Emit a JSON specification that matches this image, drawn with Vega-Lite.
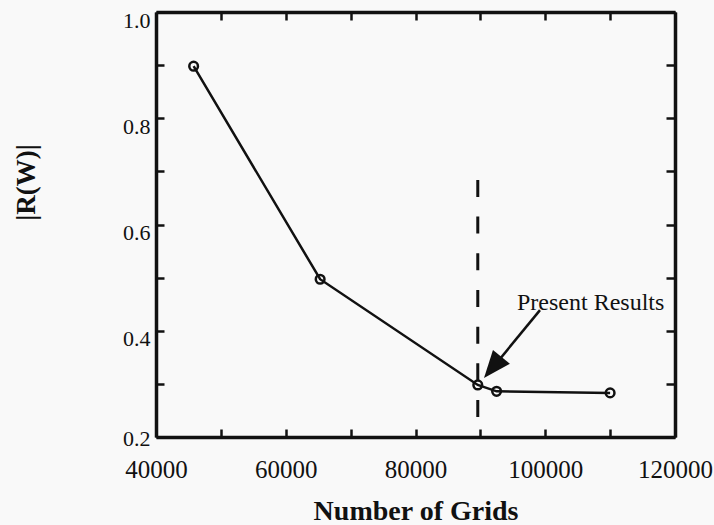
{
  "$schema": "https://vega.github.io/schema/vega-lite/v6.json",
  "width": 519,
  "height": 425,
  "autosize": "none",
  "padding": {"left": 156, "top": 12, "right": 39, "bottom": 88},
  "background": "#f9f9f9",
  "config": {"view": {"stroke": null}},
  "resolve": {"axis": {"x": "independent", "y": "independent"}},
  "layer": [
    {
      "data": {"values": [
        {"grids": 45800, "r": 0.898},
        {"grids": 65300, "r": 0.497},
        {"grids": 89600, "r": 0.298},
        {"grids": 92500, "r": 0.286},
        {"grids": 110000, "r": 0.283}
      ]},
      "mark": {"type": "line", "color": "#111", "strokeWidth": 2.5},
      "encoding": {
        "x": {
          "field": "grids", "type": "quantitative",
          "scale": {"domain": [40000, 120000], "nice": false, "zero": false},
          "axis": {
            "orient": "bottom",
            "values": [40000, 50000, 60000, 70000, 80000, 90000, 100000, 110000, 120000],
            "labelExpr": "round(datum.value/10000)%2==0 ? format(datum.value,'d') : ''",
            "grid": false,
            "tickSize": -8, "tickWidth": 2.5, "tickColor": "#111",
            "domainWidth": 3.5, "domainColor": "#111",
            "labelFont": "Liberation Serif", "labelFontSize": 25, "labelColor": "#111",
            "labelPadding": 28, "labelFlush": false, "labelOverlap": false,
            "title": "Number of Grids",
            "titleFont": "Liberation Serif", "titleFontSize": 28, "titleFontWeight": "bold", "titleColor": "#111",
            "titleY": 82, "titleBaseline": "alphabetic"
          }
        },
        "y": {
          "field": "r", "type": "quantitative",
          "scale": {"domain": [0.2, 1.0], "nice": false, "zero": false},
          "axis": {
            "orient": "left",
            "values": [0.2, 0.3, 0.4, 0.5, 0.6, 0.7, 0.8, 0.9, 1.0],
            "labelExpr": "round(datum.value*10)%2==0 ? format(datum.value,'.1f') : ''",
            "grid": false,
            "tickSize": -8, "tickWidth": 2.5, "tickColor": "#111",
            "domainWidth": 3.5, "domainColor": "#111",
            "labelFont": "Liberation Serif", "labelFontSize": 22, "labelColor": "#111",
            "labelPadding": 14, "labelFlush": false, "labelOverlap": false,
            "labelOffset": {"condition": {"test": "datum.value < 0.25", "value": 1}, "value": 8},
            "title": "|R(W)|",
            "titleFont": "Liberation Serif", "titleFontSize": 27, "titleFontWeight": "bold", "titleColor": "#111",
            "titleAngle": -90, "titleX": -130, "titleY": 170, "titleAlign": "center", "titleBaseline": "middle"
          }
        }
      }
    },
    {
      "data": {"values": [
        {"grids": 45800, "r": 0.898},
        {"grids": 65300, "r": 0.497},
        {"grids": 89600, "r": 0.298},
        {"grids": 92500, "r": 0.286},
        {"grids": 110000, "r": 0.283}
      ]},
      "mark": {"type": "point", "shape": "circle", "filled": false, "color": "#111", "strokeWidth": 2.5, "size": 75, "opacity": 1},
      "encoding": {
        "x": {"field": "grids", "type": "quantitative", "axis": null},
        "y": {"field": "r", "type": "quantitative", "axis": null}
      }
    },
    {
      "data": {"values": [{"grids": 89600, "r": 0.684, "r2": 0.2}]},
      "mark": {"type": "rule", "color": "#111", "strokeWidth": 3, "strokeDash": [17, 19.7]},
      "encoding": {
        "x": {
          "field": "grids", "type": "quantitative",
          "axis": {
            "orient": "top",
            "values": [40000, 50000, 60000, 70000, 80000, 90000, 100000, 110000, 120000],
            "labels": false, "grid": false, "title": null,
            "tickSize": -8, "tickWidth": 2.5, "tickColor": "#111",
            "domainWidth": 3.5, "domainColor": "#111"
          }
        },
        "y": {
          "field": "r", "type": "quantitative",
          "axis": {
            "orient": "right",
            "values": [0.2, 0.3, 0.4, 0.5, 0.6, 0.7, 0.8, 0.9, 1.0],
            "labels": false, "grid": false, "title": null,
            "tickSize": -9, "tickWidth": 2.5, "tickColor": "#111",
            "domainWidth": 3.5, "domainColor": "#111"
          }
        },
        "y2": {"field": "r2"}
      }
    },
    {
      "data": {"values": [{"grids": 99190, "r": 0.4388, "grids2": 91200, "r2": 0.32}]},
      "mark": {"type": "rule", "color": "#111", "strokeWidth": 2.5},
      "encoding": {
        "x": {"field": "grids", "type": "quantitative", "axis": null},
        "y": {"field": "r", "type": "quantitative", "axis": null},
        "x2": {"field": "grids2"},
        "y2": {"field": "r2"}
      }
    },
    {
      "data": {"values": [{"grids": 90560, "r": 0.311}]},
      "mark": {"type": "point", "shape": "M0,0L0.4,1L-0.4,1Z", "filled": true, "color": "#111", "opacity": 1, "size": 3000, "angle": 219.5, "strokeWidth": 0},
      "encoding": {
        "x": {"field": "grids", "type": "quantitative", "axis": null},
        "y": {"field": "r", "type": "quantitative", "axis": null}
      }
    },
    {
      "data": {"values": [{"grids": 95645, "r": 0.452, "label": "Present Results"}]},
      "mark": {"type": "text", "align": "left", "baseline": "middle", "font": "Liberation Serif", "fontSize": 24, "color": "#111"},
      "encoding": {
        "x": {"field": "grids", "type": "quantitative", "axis": null},
        "y": {"field": "r", "type": "quantitative", "axis": null},
        "text": {"field": "label"}
      }
    }
  ]
}
